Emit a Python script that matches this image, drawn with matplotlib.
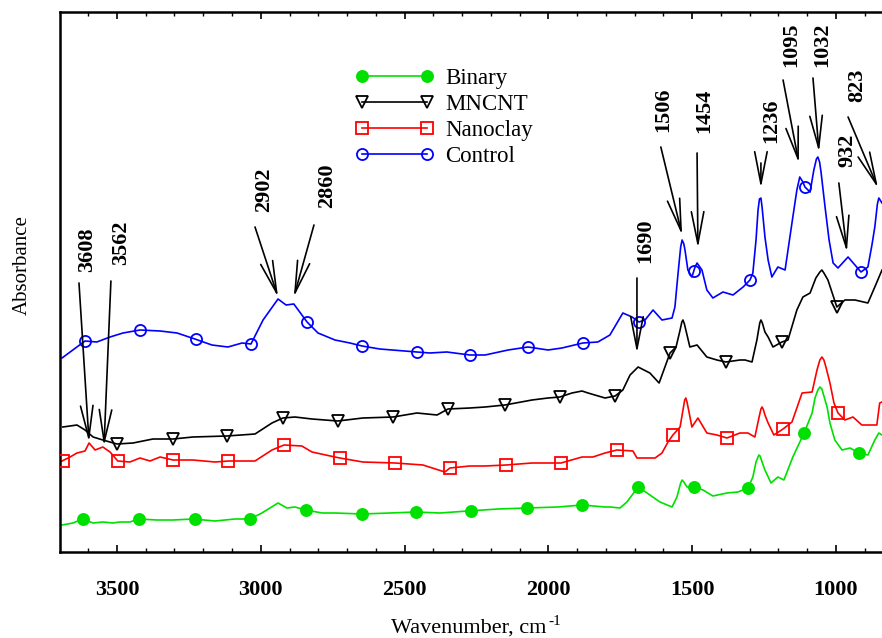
import numpy as np
import matplotlib
matplotlib.use("Agg")
import matplotlib.pyplot as plt
from matplotlib.ticker import MultipleLocator, NullLocator

plt.rcParams['font.family'] = ['Liberation Serif', 'DejaVu Serif']

# ---- FTIR spectra (wavenumber in cm^-1, absorbance in arbitrary offset units) ----
control_wn = [3691, 3611, 3570, 3524, 3479, 3420, 3350, 3291, 3229, 3170, 3114, 3065, 3034,
              2992, 2940, 2912, 2885, 2839, 2801, 2742, 2690, 2648, 2586, 2457, 2412, 2353,
              2273, 2220, 2140, 2071, 2001, 1953, 1880, 1828, 1786, 1741, 1709, 1685, 1664,
              1636, 1605, 1570, 1560, 1549, 1540, 1535, 1529, 1525, 1515, 1501, 1490, 1483,
              1466, 1449, 1428, 1393, 1358, 1323, 1299, 1289, 1278, 1271, 1266, 1261, 1257,
              1247, 1236, 1223, 1202, 1177, 1150, 1136, 1126, 1115, 1108, 1090, 1077, 1068,
              1063, 1057, 1052, 1038, 1024, 1010, 993, 958, 934, 913, 889, 875, 865, 856,
              851, 840]
control_abs = [1.94, 2.11, 2.10, 2.15, 2.19, 2.22, 2.21, 2.19, 2.13, 2.07, 2.05, 2.09, 2.08,
               2.32, 2.53, 2.47, 2.48, 2.30, 2.19, 2.12, 2.09, 2.06, 2.03, 2.00, 1.99, 2.00,
               1.97, 1.97, 2.02, 2.05, 2.02, 2.04, 2.09, 2.10, 2.17, 2.39, 2.35, 2.30, 2.32,
               2.42, 2.32, 2.34, 2.45, 2.79, 3.05, 3.12, 3.08, 3.02, 2.82, 2.75, 2.85, 2.89,
               2.82, 2.62, 2.54, 2.60, 2.57, 2.65, 2.72, 2.79, 3.12, 3.42, 3.53, 3.54, 3.45,
               3.15, 2.92, 2.75, 2.85, 2.82, 3.35, 3.62, 3.75, 3.70, 3.65, 3.60, 3.82, 3.93,
               3.95, 3.90, 3.80, 3.45, 3.12, 2.89, 2.84, 2.95, 2.87, 2.80, 2.85, 3.07, 3.25,
               3.48, 3.54, 3.49]

mncnt_wn = [3688, 3639, 3611, 3583, 3549, 3500, 3444, 3375, 3305, 3236, 3118, 3020, 2961,
            2923, 2881, 2822, 2732, 2645, 2540, 2457, 2387, 2349, 2273, 2220, 2151, 2057,
            2001, 1960, 1918, 1883, 1862, 1803, 1768, 1741, 1716, 1688, 1647, 1615, 1577,
            1556, 1542, 1536, 1532, 1527, 1522, 1508, 1483, 1449, 1414, 1383, 1334, 1316,
            1292, 1275, 1265, 1261, 1256, 1247, 1236, 1219, 1188, 1167, 1136, 1115, 1090,
            1070, 1056, 1049, 1042, 1028, 997, 969, 934, 889, 865, 840]
mncnt_abs = [1.25, 1.27, 1.22, 1.15, 1.12, 1.08, 1.09, 1.13, 1.13, 1.15, 1.16, 1.18, 1.29,
             1.34, 1.35, 1.33, 1.31, 1.34, 1.35, 1.39, 1.37, 1.43, 1.44, 1.45, 1.47, 1.52,
             1.54, 1.55, 1.59, 1.61, 1.59, 1.54, 1.56, 1.62, 1.77, 1.85, 1.79, 1.69, 1.99,
             2.05, 2.22, 2.30, 2.32, 2.28, 2.22, 2.05, 2.07, 1.95, 1.92, 1.90, 1.92, 1.92,
             1.90, 2.12, 2.29, 2.32, 2.29, 2.20, 2.15, 2.05, 2.10, 2.12, 2.42, 2.55, 2.59,
             2.74, 2.80, 2.82, 2.79, 2.72, 2.45, 2.52, 2.52, 2.49, 2.65, 2.82]

nanoclay_wn = [3698, 3663, 3639, 3611, 3597, 3576, 3549, 3524, 3497, 3455, 3420, 3385, 3350,
               3305, 3236, 3159, 3111, 3020, 2961, 2919, 2857, 2822, 2742, 2725, 2645, 2533,
               2436, 2360, 2342, 2273, 2220, 2147, 2057, 1956, 1883, 1845, 1803, 1762, 1706,
               1692, 1657, 1629, 1605, 1584, 1567, 1542, 1532, 1526, 1522, 1518, 1511, 1501,
               1480, 1449, 1414, 1379, 1334, 1306, 1282, 1268, 1261, 1257, 1252, 1247, 1236,
               1216, 1184, 1153, 1118, 1083, 1066, 1056, 1049, 1042, 1035, 1021, 1007, 993,
               969, 941, 910, 889, 858, 848, 840]
nanoclay_abs = [0.90, 0.95, 0.99, 1.01, 1.09, 1.02, 1.05, 1.00, 0.91, 0.90, 0.94, 0.91, 0.95,
                0.92, 0.92, 0.90, 0.91, 0.91, 1.02, 1.07, 1.06, 1.00, 0.95, 0.94, 0.90, 0.89,
                0.87, 0.80, 0.84, 0.86, 0.86, 0.87, 0.89, 0.89, 0.95, 0.95, 0.99, 1.02, 1.01,
                0.94, 0.94, 0.94, 0.99, 1.10, 1.17, 1.25, 1.42, 1.52, 1.54, 1.50, 1.40, 1.25,
                1.34, 1.19, 1.17, 1.14, 1.19, 1.19, 1.15, 1.34, 1.43, 1.45, 1.42, 1.37, 1.29,
                1.17, 1.23, 1.30, 1.59, 1.60, 1.82, 1.92, 1.95, 1.92, 1.85, 1.69, 1.49, 1.39,
                1.32, 1.35, 1.27, 1.27, 1.27, 1.49, 1.50]

binary_wn = [3691, 3653, 3618, 3583, 3549, 3514, 3490, 3455, 3424, 3361, 3305, 3236, 3159,
             3090, 3038, 2996, 2940, 2909, 2881, 2843, 2787, 2742, 2648, 2551, 2460, 2377,
             2280, 2175, 2074, 1967, 1883, 1803, 1786, 1751, 1727, 1688, 1657, 1612, 1570,
             1553, 1540, 1535, 1529, 1518, 1494, 1462, 1428, 1379, 1341, 1306, 1289, 1278,
             1271, 1268, 1264, 1257, 1247, 1226, 1202, 1181, 1150, 1111, 1083, 1073, 1063,
             1056, 1049, 1045, 1031, 1021, 1004, 979, 951, 920, 889, 865, 851, 840]
binary_abs = [0.27, 0.29, 0.33, 0.29, 0.30, 0.29, 0.30, 0.30, 0.33, 0.32, 0.32, 0.33, 0.31,
              0.33, 0.33, 0.39, 0.49, 0.44, 0.45, 0.42, 0.39, 0.39, 0.38, 0.39, 0.40, 0.39,
              0.41, 0.43, 0.44, 0.45, 0.47, 0.45, 0.45, 0.44, 0.50, 0.65, 0.59, 0.50, 0.45,
              0.55, 0.69, 0.72, 0.70, 0.65, 0.65, 0.62, 0.56, 0.59, 0.60, 0.64, 0.75, 0.90,
              0.95, 0.97, 0.96, 0.90, 0.82, 0.69, 0.75, 0.72, 0.95, 1.19, 1.39, 1.54, 1.62,
              1.65, 1.63, 1.59, 1.45, 1.29, 1.12, 1.02, 1.04, 0.99, 0.97, 1.12, 1.19, 1.17]

# wavenumbers carrying a symbol on each trace
control_marks = [3611, 3420, 3225, 3034, 2839, 2648, 2457, 2273, 2071, 1880, 1685, 1494, 1299, 1108, 913]
mncnt_marks = [3500, 3305, 3118, 2923, 2732, 2540, 2349, 2151, 1960, 1768, 1577, 1383, 1188, 997]
nanoclay_marks = [3688, 3497, 3305, 3114, 2919, 2725, 2533, 2342, 2147, 1956, 1762, 1567, 1379, 1184, 993]
binary_marks = [3618, 3424, 3229, 3038, 2843, 2648, 2460, 2270, 2074, 1883, 1688, 1494, 1306, 1111, 920]

series_names = ["Binary", "MNCNT", "Nanoclay", "Control"]

# peak labels: text, label anchor (wn, abs), arrow tail (wn, abs), arrow tip (wn, abs)
peak_labels = ["3608", "3562", "2902", "2860", "1690", "1506", "1454", "1236", "1095", "1032", "932", "823"]
label_pos = [(3604, 2.80), (3486, 2.87), (2989, 3.40), (2770, 3.44), (1664, 2.89), (1602, 4.20),
             (1459, 4.19), (1226, 4.09), (1157, 4.85), (1049, 4.85), (962, 3.85), (927, 4.50)]
arrow_tail = [(3632, 2.69), (3521, 2.71), (3020, 3.25), (2815, 3.27), (1692, 2.74), (1609, 4.05),
              (1483, 3.99), (1261, 3.89), (1184, 4.72), (1080, 4.74), (990, 3.69), (958, 4.35)]
arrow_tip = [(3597, 1.10), (3545, 1.06), (2940, 2.55), (2885, 2.55), (1692, 1.99), (1535, 3.17),
             (1480, 3.04), (1261, 3.64), (1129, 3.89), (1059, 4.00), (962, 3.00), (854, 3.64)]

fig = plt.figure(figsize=(8.82, 6.38), dpi=100)
ax = fig.add_axes([60 / 882, 1 - 552 / 638, 1 - 60 / 882, 540 / 638])

styles = [
    (binary_wn, binary_abs, binary_marks, dict(color="#00e000", marker="o", mfc="#00e000", mec="#00e000")),
    (mncnt_wn, mncnt_abs, mncnt_marks, dict(color="black", marker="v", mfc="none", mec="black")),
    (nanoclay_wn, nanoclay_abs, nanoclay_marks, dict(color="red", marker="s", mfc="none", mec="red")),
    (control_wn, control_abs, control_marks, dict(color="blue", marker="o", mfc="none", mec="blue")),
]

handles = []
for name, (wn, ab, marks, st) in zip(series_names, styles):
    wn = np.asarray(wn, float)
    ab = np.asarray(ab, float)
    ax.plot(wn, ab, color=st["color"], lw=1.2, solid_joinstyle="round", zorder=2)
    mk = np.asarray(marks, float)
    order = np.argsort(wn)
    mk_y = np.interp(mk, wn[order], ab[order])
    ax.plot(mk, mk_y, ls="none", marker=st["marker"], ms=8, mfc=st["mfc"], mec=st["mec"],
            mew=1.3, zorder=3)
    h, = ax.plot([], [], color=st["color"], lw=1.2, marker=st["marker"], ms=8,
                 mfc=st["mfc"], mec=st["mec"], mew=1.3, label=name)
    handles.append(h)

for txt, lp, tail, tip in zip(peak_labels, label_pos, arrow_tail, arrow_tip):
    ax.text(lp[0], lp[1], txt, rotation=90, ha="center", va="bottom",
            fontsize=16, fontweight="bold")
    ax.annotate("", xy=tip, xytext=tail,
                arrowprops=dict(arrowstyle="->,head_length=2.3,head_width=0.45",
                                color="black", lw=1.2, shrinkA=0, shrinkB=0,
                                mutation_scale=10))

ax.set_xlim(3698, 840)
ax.set_ylim(0, 5.40)
ax.xaxis.set_major_locator(MultipleLocator(500))
ax.xaxis.set_minor_locator(MultipleLocator(100))
ax.yaxis.set_major_locator(NullLocator())
ax.tick_params(axis="x", which="both", direction="in", top=True, bottom=True,
               labelsize=16, pad=20)
ax.tick_params(axis="x", which="major", length=5, width=1.2)
ax.tick_params(axis="x", which="minor", length=3, width=1.0)
for lbl in ax.get_xticklabels():
    lbl.set_fontweight("bold")
for side in ("left", "bottom", "top"):
    ax.spines[side].set_linewidth(1.8)
ax.spines["right"].set_visible(False)

fig.text(22 / 882, 1 - 265 / 638, "Absorbance", rotation=90, ha="center", va="center",
         fontsize=15)
xlab = fig.text(469 / 882, 1 - 633 / 638, "Wavenumber, cm", ha="center", va="baseline",
                fontsize=16)
ax.annotate("-1", xy=(1.0, 1.0), xycoords=xlab, xytext=(1, 3), textcoords="offset points",
            ha="left", va="top", fontsize=11, annotation_clip=False)

ax.legend(handles=handles, loc="upper left", bbox_to_anchor=(355 / 882, 1 - 68 / 638),
          bbox_transform=fig.transFigure, frameon=False, numpoints=2, fontsize=16.5,
          handlelength=3.44, handletextpad=0.48, labelspacing=0.22, borderpad=0,
          borderaxespad=0)

fig.savefig("out.png", dpi=100)
